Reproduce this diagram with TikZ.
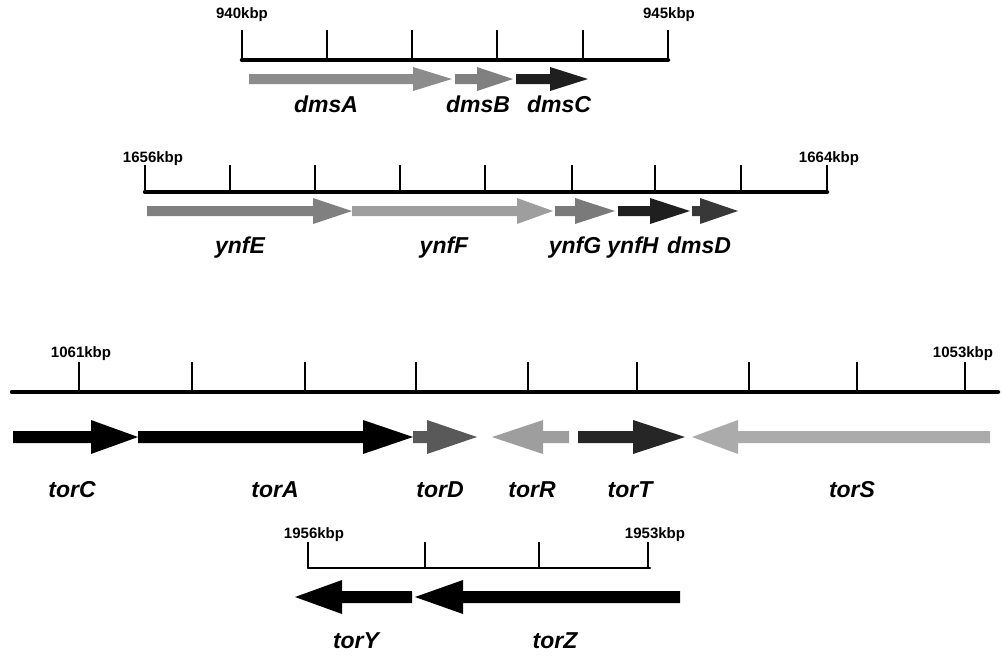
\documentclass[tikz,border=0pt]{standalone}
\usepackage{fontspec}
\setsansfont{Liberation Sans}
\tikzset{
  gene/.style={font=\sffamily\bfseries\itshape\fontsize{23}{23}\selectfont, inner sep=0pt, anchor=base},
  kbp/.style={font=\sffamily\bfseries\fontsize{15}{15}\selectfont, inner sep=0pt, anchor=base},
  axisline/.style={line width=4.5pt, line cap=round},
  tickline/.style={line width=2pt},
}
% tail x, head-base x, tip x, y, shaft half, head half, colour
\newcommand\genearrow[7]{%
  \fill[#7] ({#1},{#4-#5}) -- ({#2},{#4-#5}) -- ({#2},{#4-#6}) -- ({#3},{#4}) --
    ({#2},{#4+#6}) -- ({#2},{#4+#5}) -- ({#1},{#4+#5}) -- cycle;}
\begin{document}
\begin{tikzpicture}[x=1pt,y=-1pt]
\useasboundingbox (0,0) rectangle (1002,659);

% ---------- dms ----------
\draw[axisline] (242,60) -- (668,60);
\foreach \x in {242,327,412,497,583,668} \draw[tickline] (\x,60) -- (\x,30);
\node[kbp] (k940) at (242,18) {940kbp};
\node[kbp] (k945) at (669,18) {945kbp};
\genearrow{249}{413}{452}{79}{5}{12}{black!45}
\genearrow{455}{477}{513}{79}{5}{12}{black!50}
\genearrow{516}{550}{588}{79}{5}{12}{black!88}
\node[gene] (dmsA) at (326,112) {dmsA};
\node[gene] (dmsB) at (478,112) {dmsB};
\node[gene] (dmsC) at (559,112) {dmsC};

% ---------- ynf ----------
\draw[axisline] (145,192) -- (827,192);
\foreach \x in {145,230,315,400,485,572,655,741,827} \draw[tickline] (\x,192) -- (\x,165);
\node[kbp] (k1656) at (153,162) {1656kbp};
\node[kbp] (k1664) at (829,162) {1664kbp};
\genearrow{147}{313}{352}{211}{5}{13}{black!50}
\genearrow{352}{517}{553}{211}{5}{13}{black!38}
\genearrow{555}{575}{615}{211}{5}{13}{black!52}
\genearrow{618}{650}{690}{211}{5}{13}{black!88}
\genearrow{692}{700}{738}{211}{5}{13}{black!78}
\node[gene] (ynfE) at (240,253) {ynfE};
\node[gene] (ynfF) at (444,253) {ynfF};
\node[gene] (ynfG) at (575,253) {ynfG};
\node[gene] (ynfH) at (633,253) {ynfH};
\node[gene] (dmsD) at (699,253) {dmsD};

% ---------- tor ----------
\draw[axisline] (12,392) -- (998,392);
\foreach \x in {79,192,305,416,528,637,749,857,965} \draw[tickline] (\x,392) -- (\x,362);
\node[kbp] (k1061) at (81,357) {1061kbp};
\node[kbp] (k1053) at (963,357) {1053kbp};
\genearrow{13}{91}{138}{437}{6}{17}{black}
\genearrow{138}{363}{413}{437}{6}{17}{black}
\genearrow{413}{427}{477}{437}{6}{17}{black!65}
\genearrow{569}{543}{492}{437}{6}{17}{black!38}
\genearrow{578}{633}{685}{437}{6}{17}{black!85}
\genearrow{990}{738}{692}{437}{6}{17}{black!33}
\node[gene] (torC) at (72,497) {torC};
\node[gene] (torA) at (275,497) {torA};
\node[gene] (torD) at (440,497) {torD};
\node[gene] (torR) at (532,497) {torR};
\node[gene] (torT) at (630,497) {torT};
\node[gene] (torS) at (852,497) {torS};

% ---------- torYZ ----------
\draw[line width=2.5pt, line cap=round] (308,568) -- (650,568);
\foreach \x in {308,425,539,648} \draw[tickline] (\x,568) -- (\x,542);
\node[kbp] (k1956) at (314,538) {1956kbp};
\node[kbp] (k1953) at (655,538) {1953kbp};
\genearrow{412}{342}{295}{597}{6}{17}{black}
\genearrow{680}{463}{415}{597}{6}{17}{black}
\node[gene] (torY) at (356,648) {torY};
\node[gene] (torZ) at (555,648) {torZ};
\end{tikzpicture}
\end{document}
